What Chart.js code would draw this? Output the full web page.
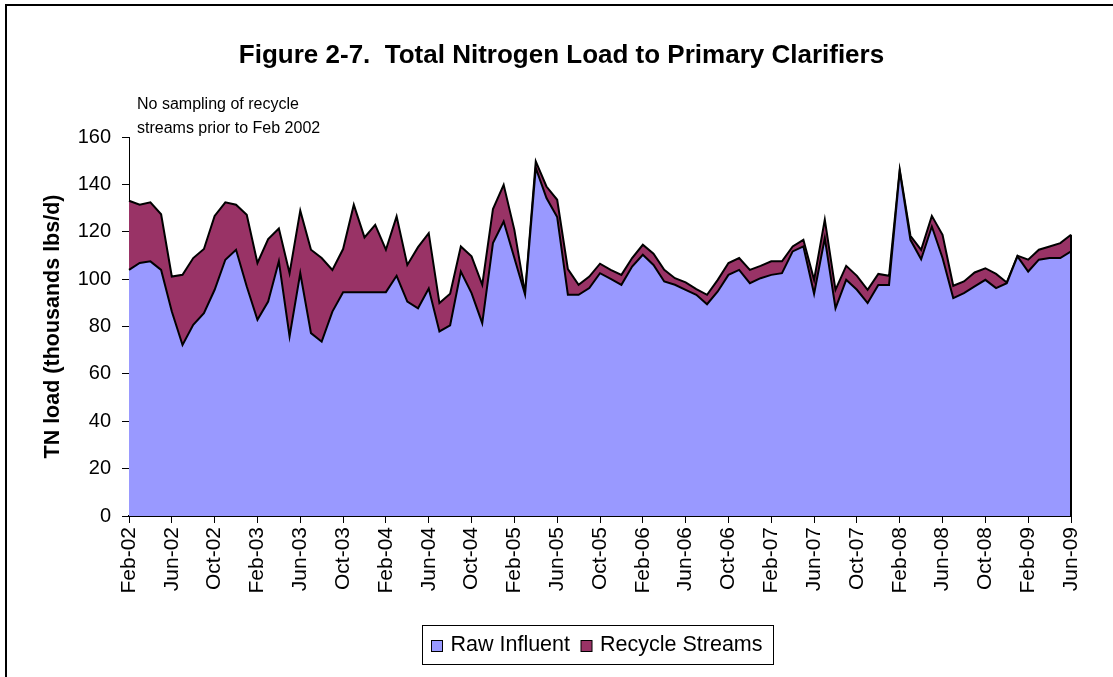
<!DOCTYPE html>
<html>
<head>
<meta charset="utf-8">
<script src="https://cdn.jsdelivr.net/npm/chart.js@4"></script>
<style>
html,body{margin:0;padding:0;background:#fff;}
#wrap{width:1113px;height:677px;position:relative;}
canvas{display:block;}
</style>
</head>
<body>
<div id="wrap"><canvas id="c" width="1113" height="677"></canvas></div>
<script>
const months = [
 'Feb-02','Mar-02','Apr-02','May-02','Jun-02','Jul-02','Aug-02','Sep-02','Oct-02','Nov-02','Dec-02',
 'Jan-03','Feb-03','Mar-03','Apr-03','May-03','Jun-03','Jul-03','Aug-03','Sep-03','Oct-03','Nov-03','Dec-03',
 'Jan-04','Feb-04','Mar-04','Apr-04','May-04','Jun-04','Jul-04','Aug-04','Sep-04','Oct-04','Nov-04','Dec-04',
 'Jan-05','Feb-05','Mar-05','Apr-05','May-05','Jun-05','Jul-05','Aug-05','Sep-05','Oct-05','Nov-05','Dec-05',
 'Jan-06','Feb-06','Mar-06','Apr-06','May-06','Jun-06','Jul-06','Aug-06','Sep-06','Oct-06','Nov-06','Dec-06',
 'Jan-07','Feb-07','Mar-07','Apr-07','May-07','Jun-07','Jul-07','Aug-07','Sep-07','Oct-07','Nov-07','Dec-07',
 'Jan-08','Feb-08','Mar-08','Apr-08','May-08','Jun-08','Jul-08','Aug-08','Sep-08','Oct-08','Nov-08','Dec-08',
 'Jan-09','Feb-09','Mar-09','Apr-09','May-09','Jun-09'
];

const rawInfluent = [
 103.9,106.8,107.5,103.9,86.3,72.2,80.7,85.6,95.5,108.2,112.4,96.9,82.8,90.5,107.5,75.8,102.5,77.2,73.6,86.3,
 94.5,94.5,94.5,94.5,94.5,101.4,90.5,87.7,96.0,77.9,
 80.5,103.2,94.1,81.4,115.2,124.3,108.9,93.5,146.9,134.2,126.2,93.4,93.4,96.2,102.5,100.1,97.6,105.3,110.3,106.0,
 99.0,97.6,95.5,93.4,89.4,94.8,101.8,103.9,98.3,100.4,
 101.8,102.5,111.7,113.8,93.8,117.3,87.7,99.7,95.5,89.9,97.5,97.5,145.5,116.6,108.4,122.2,108.9,92.0,94.1,96.9,
 99.7,96.2,98.3,109.6,103.2,108.2,108.9,108.9,111.7
];

const recycleStreams = [
 29.2,24.6,24.9,23.5,14.8,29.6,28.2,27.1,31.2,24.2,19.0,30.3,24.0,26.4,13.9,26.7,26.4,35.2,35.3,17.6,
 18.2,36.9,23.1,28.4,17.9,25.1,15.5,25.8,23.4,12.0,
 13.3,10.6,15.5,16.2,14.4,15.5,11.9,0.6,2.8,4.9,7.3,10.8,4.2,4.9,4.0,3.8,4.2,3.6,4.2,4.7,
 4.9,2.8,3.1,2.4,4.0,4.9,5.0,5.0,5.6,5.2,
 5.7,5.0,2.1,2.8,5.9,7.8,7.8,5.9,5.9,5.6,4.7,3.9,0.7,1.7,4.0,4.5,9.8,5.2,4.9,5.9,
 4.9,6.0,0.3,0.3,5.0,4.2,4.9,6.3,7.0
];

const yTicks = [0,20,40,60,80,100,120,140,160];
const seriesNames = ['Raw Influent','Recycle Streams'];
const seriesColors = ['#9999FF','#993366'];
const titleText = 'Figure 2-7.  Total Nitrogen Load to Primary Clarifiers';
const yTitle = 'TN load (thousands lbs/d)';
const noteLines = ['No sampling of recycle','streams prior to Feb 2002'];

const FONT = "'Liberation Sans', Arial, sans-serif";

const decor = {
  id: 'decor',
  beforeDraw(chart) {
    const ctx = chart.ctx;
    ctx.save();
    ctx.fillStyle = '#fff';
    ctx.fillRect(0, 0, chart.width, chart.height);
    ctx.strokeStyle = '#000';
    ctx.lineWidth = 2;
    ctx.strokeRect(6, 5, chart.width + 20, chart.height + 20);
    ctx.restore();
  },
  afterDatasetsDraw(chart) {
    const ctx = chart.ctx;
    const meta = chart.getDatasetMeta(1);
    const last = meta.data[meta.data.length - 1];
    ctx.save();
    ctx.strokeStyle = '#000';
    ctx.lineWidth = 2;
    ctx.beginPath();
    ctx.moveTo(last.x, last.y);
    ctx.lineTo(last.x, chart.chartArea.bottom);
    ctx.stroke();
    ctx.restore();
  },
  afterDraw(chart) {
    const ctx = chart.ctx;
    const ca = chart.chartArea;
    ctx.save();
    // note text
    ctx.fillStyle = '#000';
    ctx.font = '16px ' + FONT;
    ctx.textAlign = 'left';
    ctx.textBaseline = 'middle';
    ctx.fillText(noteLines[0], ca.left + 8, 105);
    ctx.fillText(noteLines[1], ca.left + 8, 129);
    // legend
    ctx.font = '21.5px ' + FONT;
    const box = 11, gap = 8, itemGap = 11, padX = 9, padR = 11;
    const w0 = ctx.measureText(seriesNames[0]).width;
    const w1 = ctx.measureText(seriesNames[1]).width;
    const totalW = padX + box + gap + w0 + itemGap + box + gap + w1 + padR;
    const cx = (ca.left + ca.right) / 2 - 3;
    const lx = Math.round(cx - totalW / 2) + 0.5;
    const ly = 625.5, lh = 39;
    ctx.strokeStyle = '#000';
    ctx.lineWidth = 1;
    ctx.strokeRect(lx, ly, totalW, lh);
    const my = ly + lh / 2;
    let x = lx + padX;
    for (let i = 0; i < 2; i++) {
      ctx.fillStyle = seriesColors[i];
      ctx.fillRect(x, my - box / 2 + 1, box, box);
      ctx.strokeRect(x, my - box / 2 + 1, box, box);
      x += box + gap;
      ctx.fillStyle = '#000';
      ctx.fillText(seriesNames[i], x, my);
      x += (i === 0 ? w0 : w1) + itemGap;
    }
    ctx.restore();
  }
};

new Chart(document.getElementById('c').getContext('2d'), {
  type: 'line',
  data: {
    labels: months,
    datasets: [
      { label: seriesNames[0], data: rawInfluent, fill: 'origin', backgroundColor: seriesColors[0],
        borderColor: '#000', borderWidth: 2, pointRadius: 0, tension: 0, yAxisID: 'y' },
      { label: seriesNames[1], data: recycleStreams, fill: '-1', backgroundColor: seriesColors[1],
        borderColor: '#000', borderWidth: 2, pointRadius: 0, tension: 0, yAxisID: 'y' }
    ]
  },
  options: {
    responsive: false,
    animation: false,
    devicePixelRatio: 1,
    layout: { padding: { left: 10, right: 0, top: 0, bottom: 61 } },
    plugins: {
      legend: { display: false },
      tooltip: { enabled: false },
      title: {
        display: true, text: titleText, color: '#000',
        font: { family: FONT, size: 26, weight: 'bold' },
        padding: { top: 40, bottom: 65.8 }
      }
    },
    scales: {
      x: {
        offset: false,
        grid: { display: true, drawOnChartArea: false, tickLength: 7,
                color: c => (c.index % 4 === 0 ? '#000' : 'rgba(0,0,0,0)') },
        border: { display: true, color: '#000', width: 2 },
        ticks: { autoSkip: false, maxRotation: 90, minRotation: 90, color: '#000', padding: 4,
                 font: { family: FONT, size: 21 },
                 callback: (v, i) => (i % 4 === 0 ? months[i] : '') },
        afterFit: s => { s.height = 100; }
      },
      y: {
        stacked: true, min: 0, max: 160,
        grid: { display: true, drawOnChartArea: false, tickLength: 7, color: '#000' },
        border: { display: true, color: '#000', width: 1 },
        ticks: { stepSize: 20, color: '#000', padding: 11, font: { family: FONT, size: 20 },
                 callback: v => (yTicks.includes(v) ? String(v) : '') },
        title: { display: true, text: yTitle, color: '#000', padding: { top: 30, bottom: 0 },
                 font: { family: FONT, size: 21.5, weight: 'bold' } },
        afterFit: s => { s.width = 119; }
      },
      yPad: {
        position: 'right', display: true,
        grid: { display: false }, border: { display: false },
        ticks: { display: false },
        afterFit: s => { s.width = 42; }
      }
    }
  },
  plugins: [decor]
});
</script>
</body>
</html>
